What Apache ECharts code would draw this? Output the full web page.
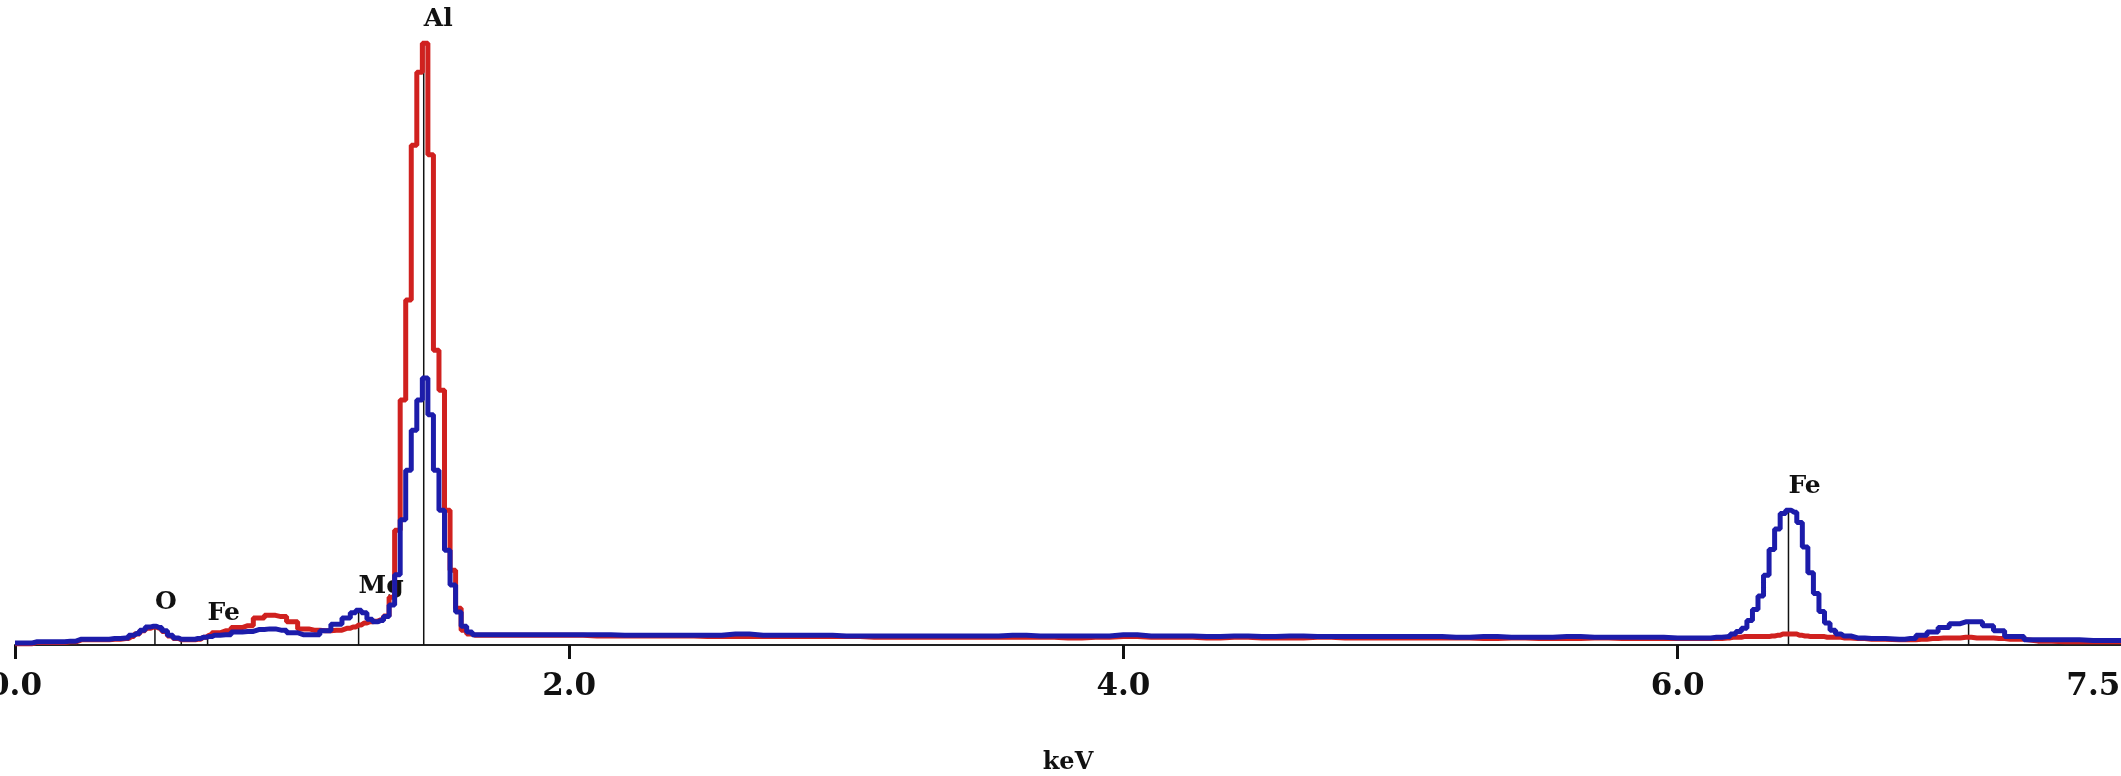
<!DOCTYPE html>
<html>
<head>
<meta charset="utf-8">
<title>EDS spectrum</title>
<script src="https://cdn.jsdelivr.net/npm/echarts@6/dist/echarts.min.js"></script>
<style>
    html,body{margin:0;padding:0;background:#fff;}
    #spectrum{width:2121px;height:776px;}
</style>
</head>
<body>
<div id="spectrum"></div>
<script>
// energy (keV) and counts
var lowE = [0.00,0.04,0.08,0.12,0.16,0.20,0.24,0.28,0.32,0.36,0.40,
    0.42,0.44,0.46,0.48,0.50,0.52,0.54,0.56,0.58,0.60,0.62,0.64,0.66,0.68,0.70,0.72,
    0.76,0.80,0.84,0.88,0.92,0.96,1.00,1.04,1.08,1.12,1.16,1.20,
    1.22,1.24,1.26,1.28,1.30,1.32,1.34,1.36,1.38,1.40,1.42,1.44,1.46,1.48,1.50,1.52,1.54,1.56,1.58,1.60,1.62,1.64,1.66];
var lowBlue = [3,3,5,5,5,6,9,9,9,10,11,
    15,18,23,28,29,27,22,15,11,9,9,9,10,12,13,15,
    16,20,21,24,25,23,19,16,16,22,32,42,
    50,54,50,40,36,38,44,62,109,194,271,333,380,414,357,271,209,147,93,51,29,20,16];
var lowRed = [2,2,4,4,4,5,8,8,8,9,10,
    13,17,22,26,28,26,21,14,10,8,8,8,9,12,15,19,
    22,27,30,42,46,44,36,25,23,22,23,26,
    28,31,34,36,37,39,45,74,178,380,535,775,888,933,760,457,395,209,116,57,23,17,15];

var midE = [1.7,1.8,1.9,2.0,2.1,2.2,2.3,2.4,2.5,2.6,2.7,2.8,2.9,3.0,3.1,3.2,3.3,3.4,3.5,3.6,3.7,3.8,3.9,
    4.0,4.1,4.2,4.3,4.4,4.5,4.6,4.7,4.8,4.9,5.0,5.1,5.2,5.3,5.4,5.5,5.6,5.7,5.8,5.9,6.0,6.1];
var midBlue = [16,16,16,16,16,15,15,15,15,17,15,15,15,14,14,14,14,14,14,15,14,14,14,
    16,14,14,13,14,13,14,13,13,13,13,13,12,13,12,12,13,12,12,12,11,11];
var midRed = [15,15,15,15,14,14,14,14,13,13,13,13,13,13,12,12,12,12,12,12,12,11,12,
    13,12,12,11,12,11,11,12,11,11,11,11,11,10,11,10,10,11,10,10,10,10];

var feE = [6.14,6.18,6.20,6.22,6.24,6.26,6.28,6.30,6.32,6.34,6.36,6.38,6.40,6.42,6.44,6.46,6.48,6.50,6.52,6.54,6.56,6.58,6.60,
    6.65,6.70,6.80,6.84,6.88,6.92,6.96,7.00,7.04,7.08,7.12,7.16,7.20,7.30,7.40,7.50,7.60];
var feBlue = [12,13,17,21,26,38,55,76,108,148,180,204,209,206,190,152,112,80,52,34,23,17,14,
    11,10,9,10,15,20,27,33,36,36,30,22,13,8,8,7,7];
var feRed = [10,11,12,12,13,13,13,13,13,14,15,17,17,17,15,14,13,13,13,12,12,12,11,
    10,9,8,8,9,10,11,11,12,11,11,10,9,6,5,5,5];

// element line markers
var markerE = [0.505,0.60,0.695,1.24,1.475,6.40,7.05];
var markerH = [30,9,13,54,933,209,36];
var markerLabel = ['O','','Fe','Mg','Al','Fe',''];

var xLabels = [0,2,4,6,7.5];
var xTicks = [0,2,4,6];

function pairs(eList,cList){
    var out = [];
    for(var i=0;i<eList.length;i++){
        out.push([eList[i],cList[i]]);
    }
    return out;
}

var redData = pairs(lowE,lowRed).concat(pairs(midE,midRed),pairs(feE,feRed));
var blueData = pairs(lowE,lowBlue).concat(pairs(midE,midBlue),pairs(feE,feBlue));
var markerData = pairs(markerE,markerH);

var chart = echarts.init(document.getElementById("spectrum"));
chart.setOption({
    animation:false,
    backgroundColor:'#ffffff',
    grid:{left:15,right:0,top:0,bottom:131,outerBoundsMode:'none',containLabel:false},
    xAxis:{
        type:'value',
        min:0,
        max:7.6,
        interval:2,
        name:'keV',
        nameLocation:'middle',
        nameGap:106,
        nameTextStyle:{color:'#111',fontFamily:'DejaVu Serif',fontWeight:'bold',fontSize:24},
        axisLine:{lineStyle:{color:'#222',width:2}},
        axisTick:{customValues:xTicks,length:14,lineStyle:{color:'#111',width:3}},
        axisLabel:{
            customValues:xLabels,
            margin:26,
            color:'#111',
            fontFamily:'DejaVu Serif',
            fontWeight:'bold',
            fontSize:31,
            formatter:function(v){return v.toFixed(1);}
        },
        splitLine:{show:false}
    },
    yAxis:{type:'value',min:0,max:1000,show:false,splitLine:{show:false}},
    series:[{
        type:'custom',
        z:1,
        data:markerData,
        encode:{x:0,y:1},
        renderItem:function(params,api){
            var top = api.coord([api.value(0),api.value(1)]);
            var base = api.coord([api.value(0),0]);
            var kids = [{
                type:'line',
                shape:{x1:base[0],y1:base[1],x2:top[0],y2:top[1]},
                style:{stroke:'#111',lineWidth:1.5}
            }];
            var txt = markerLabel[params.dataIndex];
            if(txt){
                kids.push({
                    type:'text',
                    x:top[0],
                    y:top[1]-11,
                    style:{text:txt,fill:'#111',fontFamily:'DejaVu Serif',fontWeight:'bold',fontSize:25,align:'left',verticalAlign:'bottom'}
                });
            }
            return {type:'group',children:kids};
        }
    },{
        name:'red',
        type:'line',
        z:2,
        step:'middle',
        showSymbol:false,
        data:redData,
        lineStyle:{color:'#d0211f',width:5},
        itemStyle:{color:'#d0211f'}
    },{
        name:'blue',
        type:'line',
        z:3,
        step:'middle',
        showSymbol:false,
        data:blueData,
        lineStyle:{color:'#1c1caa',width:5},
        itemStyle:{color:'#1c1caa'}
    }]
});
</script>
</body>
</html>
